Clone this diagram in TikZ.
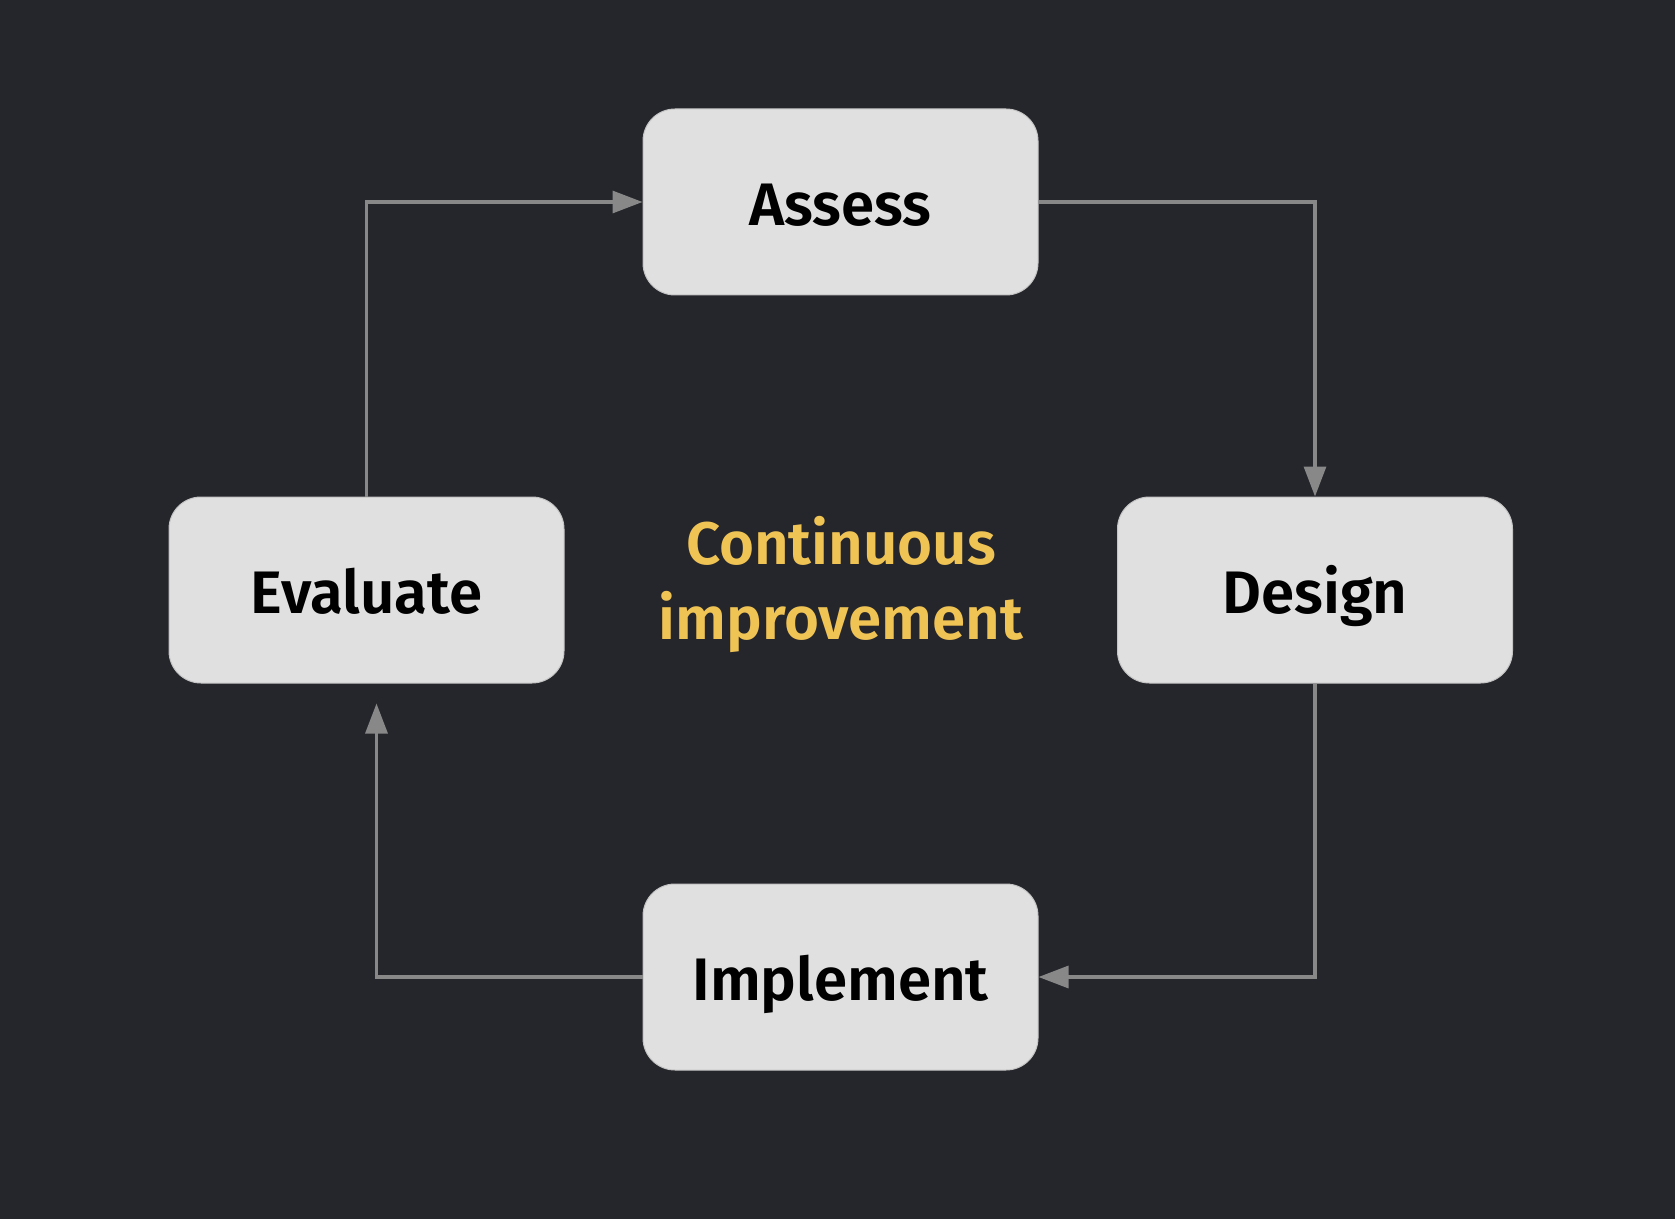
\documentclass[tikz,border=0pt]{standalone}
\usepackage{fontspec}
\setmainfont{Fira Sans}[BoldFont={Fira Sans SemiBold}]
\usetikzlibrary{arrows.meta}

\definecolor{bgdark}{HTML}{25262B}
\definecolor{boxfill}{HTML}{E0E0E0}
\definecolor{boxedge}{HTML}{C4C4C4}
\definecolor{linkgray}{HTML}{888888}
\definecolor{loopgold}{HTML}{F0C355}

\tikzset{every picture/.style={line width=1.6pt}}
\tikzset{
	stage/.style={draw=boxedge, line width=0.5pt, fill=boxfill, rounded corners=16pt,
		minimum width=197.5pt, minimum height=93pt, inner sep=0pt,
		text height=23.5pt, text depth=0pt, text=black,
		font=\bfseries\fontsize{30}{36}\selectfont},
	link/.style={draw=linkgray, -{Triangle[length=15pt,width=11pt]}}
}

\begin{document}
\begin{tikzpicture}[x=0.5pt,y=0.5pt,yscale=-1]
	\fill[bgdark] (0,0) rectangle (1675,1219);
	\useasboundingbox (0,0) rectangle (1675,1219);

	% the four stages
	\node[stage] (assess) at (840.5,202) {Assess};
	\node[stage] (design) at (1315,590) {Design};
	\node[stage] (implement) at (840.5,977) {Implement};
	\node[stage] (evaluate) at (366.5,590) {Evaluate};

	\node[align=center, text=loopgold, inner sep=0pt,
		font=\bfseries\fontsize{30}{37.5}\selectfont] (loop) at (841,585)
		{Continuous\\improvement};

	% the cycle
	\coordinate (evaltip) at ([xshift=5pt,yshift=10pt]evaluate.south);
	\draw[link] (evaluate.north) |- (assess.west);
	\draw[link] (assess.east) -| (design.north);
	\draw[link] (design.south) |- (implement.east);
	\draw[link] (implement.west) -| (evaltip);
\end{tikzpicture}
\end{document}
